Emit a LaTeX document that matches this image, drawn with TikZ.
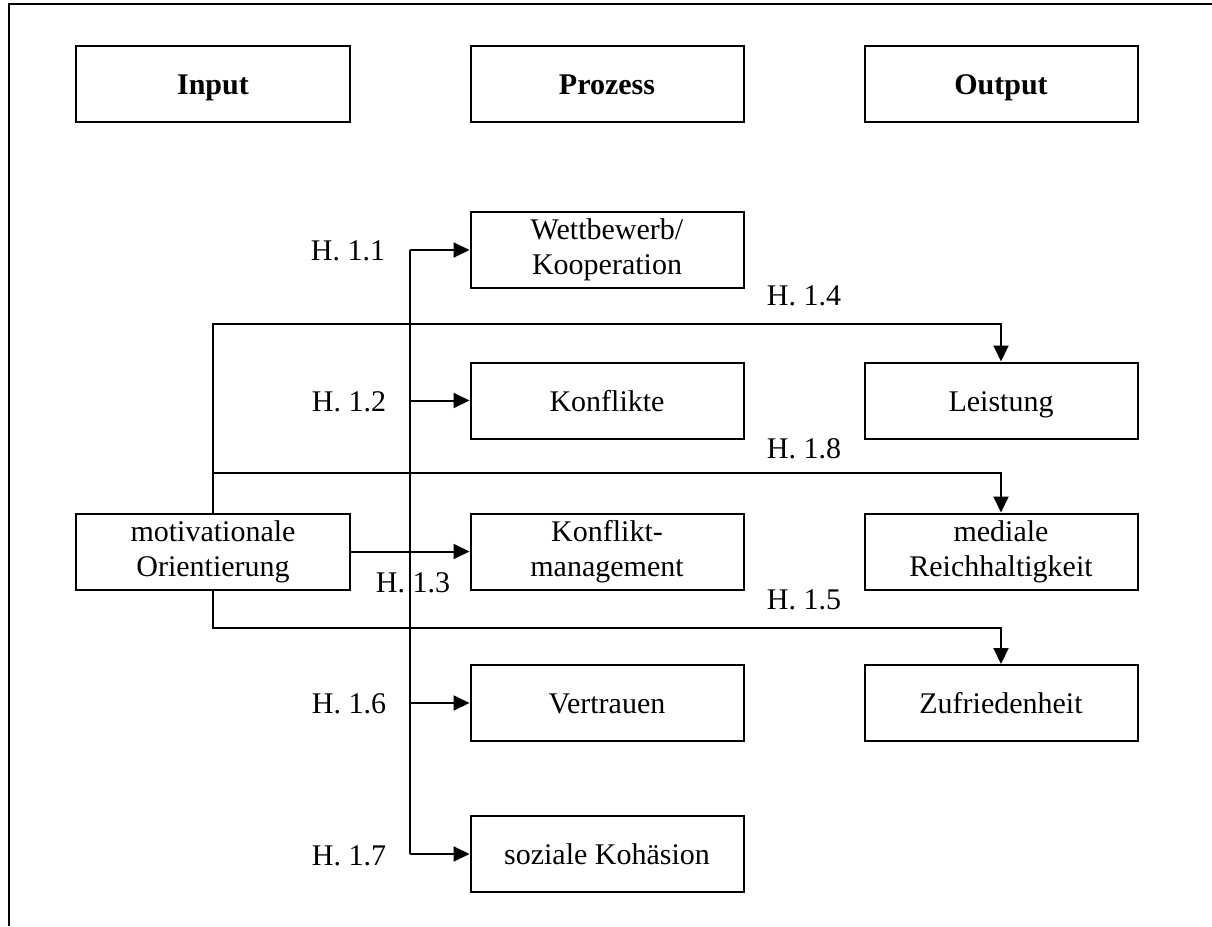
\documentclass[tikz,border=0pt]{standalone}
\usepackage{fontspec}
\setmainfont{Liberation Serif}
\usetikzlibrary{arrows.meta}

\begin{document}
\begin{tikzpicture}[x=0.4pt, y=-0.4pt,
        twoline/.style={draw, line width=0.8pt, minimum width=109.2pt, minimum height=30.4pt, inner sep=0pt, align=center, font=\fontsize{12}{14}\selectfont},
        box/.style={twoline, text height=10.4pt, text depth=2pt},
        headbox/.style={box, font=\fontsize{12}{14}\selectfont\bfseries},
        hyp/.style={inner sep=0pt, font=\fontsize{12}{14}\selectfont},
        wire/.style={line width=0.8pt},
        link/.style={line width=0.8pt, -{Triangle[length=6.4pt, width=6pt]}}]
    \useasboundingbox (0,0) rectangle (1212,926);

    % frame
    \draw[wire] (1212,4) -- (9,4) -- (9,926);

    % columns
    \node[headbox] (input) at (213, 84) {Input};
    \node[headbox] (prozess) at (607, 84) {Prozess};
    \node[headbox] (output) at (1001, 84) {Output};

    \node[twoline] (motiv) at (213, 551.5) {motivationale\\Orientierung};

    \node[twoline] (wett) at (607, 250) {Wettbewerb/\\Kooperation};
    \node[box] (konflikte) at (607, 400.5) {Konflikte};
    \node[twoline] (kmgmt) at (607, 551.5) {Konflikt-\\management};
    \node[box] (vertrauen) at (607, 703) {Vertrauen};
    \node[box] (kohaesion) at (607, 854) {soziale Kohäsion};

    \node[box] (leistung) at (1001, 400.5) {Leistung};
    \node[twoline] (medial) at (1001, 551.5) {mediale\\Reichhaltigkeit};
    \node[box] (zufr) at (1001, 703) {Zufriedenheit};

    % hypotheses
    \node[hyp] (h11) at (348, 251) {H. 1.1};
    \node[hyp] (h12) at (349, 402) {H. 1.2};
    \node[hyp] (h13) at (413, 583) {H. 1.3};
    \node[hyp] (h16) at (349, 704) {H. 1.6};
    \node[hyp] (h17) at (349, 856) {H. 1.7};
    \node[hyp] (h14) at (804, 296) {H. 1.4};
    \node[hyp] (h18) at (804, 449) {H. 1.8};
    \node[hyp] (h15) at (804, 600) {H. 1.5};

    \coordinate (bus) at (410, 0);
    \coordinate (j4) at (213, 324);
    \coordinate (j8) at (213, 473);
    \coordinate (j5) at (213, 628);

    % vertical line -> process boxes
    \draw[wire] (wett.west -| bus) -- (kohaesion.west -| bus);
    \foreach \n in {wett, konflikte, vertrauen, kohaesion}
        \draw[link] (\n.west -| bus) -- (\n.west);

    % input -> conflict management
    \draw[link] (motiv.east) -- (kmgmt.west);

    % input -> outputs
    \draw[link] (motiv.north) -- (j4) -| (leistung.north);
    \draw[link] (j8) -| (medial.north);
    \draw[link] (motiv.south) -- (j5) -| (zufr.north);
\end{tikzpicture}
\end{document}
